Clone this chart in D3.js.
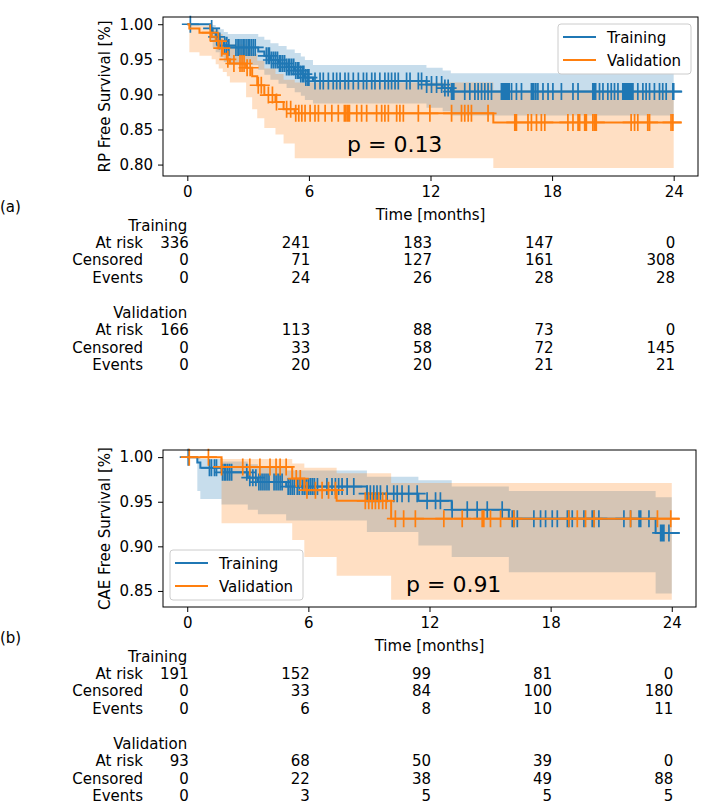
<!DOCTYPE html>
<html><head><meta charset="utf-8">
<script src="https://cdn.jsdelivr.net/npm/d3@7"></script>
<style>body{margin:0;background:#fff;} svg{display:block;} text{font-family:"DejaVu Sans",sans-serif;}</style>
</head><body><svg id="c" width="715" height="812"></svg>
<script>
// ---------- DATA ----------
const xTicks = [0, 6, 12, 18, 24];
const groupNames = ["Training", "Validation"];
const rowLabels = ["At risk", "Censored", "Events"];

// Panel (a) RP free survival
const aTrainTimes = [0,1.13,1.25,1.4,1.6,1.8,2.0,3.5,3.8,4.1,4.5,4.9,5.3,5.6,5.8,6.2,11.8,12.6,13.0];
const aTrainSurv  = [1,0.994,0.988,0.982,0.976,0.970,0.967,0.961,0.955,0.949,0.944,0.939,0.934,0.929,0.924,0.919,0.914,0.909,0.904];
const aTrainUpper = [1,1.0,0.999,0.996,0.993,0.989,0.986,0.982,0.978,0.973,0.969,0.964,0.959,0.954,0.949,0.942,0.938,0.934,0.930];
const aTrainLower = [1,0.975,0.967,0.960,0.953,0.946,0.942,0.935,0.928,0.921,0.915,0.909,0.903,0.898,0.892,0.887,0.881,0.876,0.870];
const aTrainCensor = [0.15,1.2,1.45,1.6,1.85,1.95,2.05,2.4,2.5,2.55,2.65,2.75,2.8,2.9,3.0,3.05,3.15,3.25,3.35,3.9,4.0,4.05,4.15,4.25,4.35,4.45,4.55,4.6,4.7,4.8,4.9,5.0,5.05,5.15,5.25,5.35,5.45,5.5,5.6,5.7,5.75,5.85,5.95,6.0,6.3,6.55,6.71,6.96,7.2,7.37,7.54,7.78,7.95,8.19,8.44,8.69,8.85,9.1,9.26,9.5,9.75,9.92,10.08,10.25,10.41,10.82,10.99,11.4,11.56,11.81,12.05,12.3,12.55,12.71,12.87,13.04,13.1,13.15,13.69,13.94,14.19,14.35,14.52,14.68,14.84,15.01,15.5,15.55,15.6,15.68,15.75,15.82,15.88,16.0,16.24,16.49,16.98,17.04,17.1,17.2,17.3,17.55,17.8,18.04,18.46,19.03,19.28,20.01,20.08,20.15,20.34,20.51,20.75,20.92,21.08,21.25,21.49,21.55,21.61,21.67,21.74,21.8,21.86,21.92,21.99,22.23,22.48,22.64,22.81,23.05,23.3,23.46,23.63,23.96,24.0];
const aValTimes = [0,0.1,0.6,1.2,1.4,1.55,1.75,1.95,2.1,2.9,3.2,3.45,3.8,4.35,4.75,5.3,15.1];
const aValSurv  = [1,0.994,0.988,0.982,0.976,0.966,0.958,0.950,0.944,0.938,0.926,0.913,0.899,0.889,0.879,0.873,0.860];
const aValUpper = [1,1.0,0.998,0.995,0.992,0.986,0.981,0.975,0.971,0.967,0.958,0.948,0.937,0.929,0.921,0.917,0.906];
const aValLower = [1,0.960,0.955,0.950,0.943,0.937,0.932,0.926,0.917,0.896,0.879,0.866,0.852,0.843,0.830,0.809,0.795];
const aValCensor = [1.13,1.53,1.7,2.0,2.3,2.6,2.7,2.8,2.95,3.1,3.5,3.65,4.0,4.2,4.4,4.9,5.1,5.35,5.5,5.65,5.81,6.06,6.3,6.47,6.8,7.13,7.45,7.75,7.83,7.92,8.0,8.36,8.6,8.85,9.34,9.59,9.75,9.92,10.33,10.49,10.66,11.4,11.97,13.04,13.53,13.69,13.86,14.02,14.84,16.16,16.24,16.81,16.98,17.23,17.47,17.64,18.78,19.03,19.28,19.36,19.61,19.69,20.01,20.1,20.18,21.9,22.07,22.23,22.72,22.81,23.87,23.96];
const aTrainAtRisk = [336,241,183,147,0], aTrainCensored = [0,71,127,161,308], aTrainEvents = [0,24,26,28,28];
const aValAtRisk = [166,113,88,73,0], aValCensored = [0,33,58,72,145], aValEvents = [0,20,20,21,21];

// Panel (b) CAE free survival
const bTrainTimes = [0,0.5,0.65,1.7,3.0,3.5,4.9,8.9,11.45,13.1,15.93,23.2];
const bTrainSurv  = [1,0.994,0.988,0.983,0.977,0.972,0.967,0.959,0.951,0.941,0.931,0.915];
const bTrainUpper = [1,1.0,0.998,0.995,0.992,0.988,0.985,0.978,0.974,0.967,0.962,0.955];
const bTrainLower = [1,0.962,0.953,0.947,0.941,0.936,0.929,0.916,0.901,0.888,0.871,0.847];
const bTrainCensor = [0.05,1.1,1.2,1.35,1.45,1.75,1.85,1.9,2.0,2.1,2.2,2.95,3.1,3.25,3.4,3.55,3.65,3.75,3.85,3.95,4.05,4.3,4.4,4.5,4.6,4.7,5.0,5.1,5.2,5.3,5.45,5.55,5.7,5.8,5.9,6.0,6.1,6.2,6.3,6.45,6.92,7.17,7.34,7.5,7.67,7.92,8.25,8.91,9.07,9.24,9.4,9.57,9.9,10.23,10.4,10.64,10.97,11.39,11.88,12.3,12.54,13.12,13.87,14.36,14.86,15.6,16.1,16.18,16.35,17.17,17.5,17.75,18.08,18.33,18.83,18.9,19.07,19.65,20.06,20.15,20.39,21.63,21.96,22.38,22.46,22.87,23.45,23.53,23.61,23.86];
const bValTimes = [0,1.7,5.2,5.8,7.4,10.1];
const bValSurv  = [1,0.989,0.976,0.963,0.951,0.931];
const bValUpper = [1,0.998,0.993,0.988,0.982,0.971];
const bValLower = [1,0.926,0.907,0.888,0.867,0.840];
const bValCensor = [0.1,1.05,1.7,2.75,3.1,3.6,4.1,4.4,4.6,4.9,5.4,5.6,5.93,6.35,6.68,7.0,7.34,8.82,8.99,9.16,9.32,9.49,9.68,9.85,10.31,10.72,11.3,12.71,13.62,14.61,14.69,15.02,15.52,16.18,18.9,19.32,19.73,20.15,21.96,23.29,23.95];
const bTrainAtRisk = [191,152,99,81,0], bTrainCensored = [0,33,84,100,180], bTrainEvents = [0,6,8,10,11];
const bValAtRisk = [93,68,50,39,0], bValCensored = [0,22,38,49,88], bValEvents = [0,3,5,5,5];

const lastTime = 24.4, ciEnd = 24.0;
const COLORS = ["#1f77b4", "#ff7f0e"];

// ---------- DRAW ----------
const svg = d3.select("#c");
const FONT = "DejaVu Sans";

function drawPanel(P) {
  const x = d3.scaleLinear().domain([-1.2, 25.2]).range([P.left, P.right]);
  const y = d3.scaleLinear().domain(P.yDomain).range([P.bottom, P.top]);
  const g = svg.append("g");
  const gFill = g.append("g"), gLine = g.append("g");

  P.series.forEach((s, k) => {
    const col = COLORS[k];
    const ci = s.times.map((t, i) => ({t, lo: s.lower[i], hi: s.upper[i]}));
    ci.push({t: ciEnd, lo: s.lower[s.lower.length-1], hi: s.upper[s.upper.length-1]});
    gFill.append("path")
      .attr("d", d3.area().curve(d3.curveStepAfter).x(d => x(d.t)).y0(d => y(d.lo)).y1(d => y(d.hi))(ci))
      .attr("fill", col).attr("fill-opacity", 0.25).attr("stroke", "none");
    const pts = s.times.map((t, i) => [t, s.surv[i]]);
    pts.push([lastTime, s.surv[s.surv.length-1]]);
    gLine.append("path")
      .attr("d", d3.line().curve(d3.curveStepAfter).x(d => x(d[0])).y(d => y(d[1]))(pts))
      .attr("fill", "none").attr("stroke", col).attr("stroke-width", 2);
    const m = 8.5;
    const cp = s.censor.map(t => {
      const sv = s.surv[d3.bisectRight(s.times, t) - 1];
      const cx = x(t), cy = y(sv);
      return `M${cx},${cy-m}v${2*m}M${cx-m},${cy}h${2*m}`;
    }).join("");
    gLine.append("path").attr("d", cp).attr("fill", "none").attr("stroke", col).attr("stroke-width", 1.7);
  });

  // axes
  const xa = g.append("g").attr("transform", `translate(0,${P.bottom})`)
    .call(d3.axisBottom(x).tickValues(xTicks).tickSize(5).tickPadding(5));
  const ya = g.append("g").attr("transform", `translate(${P.left},0)`)
    .call(d3.axisLeft(y).tickValues(P.yTicks).tickFormat(d3.format(".2f")).tickSize(5).tickPadding(5));
  [xa, ya].forEach(a => {
    a.select(".domain").remove();
    a.attr("font-size", 15).attr("font-family", FONT);
    a.selectAll("line").attr("stroke", "#000").attr("stroke-width", 1);
    a.selectAll("text").attr("fill", "#000");
  });
  g.append("rect").attr("x", P.left).attr("y", P.top)
    .attr("width", P.right - P.left).attr("height", P.bottom - P.top)
    .attr("fill", "none").attr("stroke", "#000").attr("stroke-width", 1);

  // y label
  const cy = (P.top + P.bottom) / 2;
  g.append("text").attr("transform", `translate(110,${cy}) rotate(-90)`)
    .attr("text-anchor", "middle").attr("font-size", 15).attr("fill", "#000").text(P.ylabel);
  // x label
  g.append("text").attr("x", (P.left + P.right) / 2).attr("y", P.bottom + 44)
    .attr("text-anchor", "middle").attr("font-size", 15).attr("fill", "#000").text("Time [months]");

  // p text
  g.append("text").attr("x", P.pAt[0]).attr("y", P.pAt[1])
    .attr("font-size", 22).attr("fill", "#000").text(P.pText);

  // legend
  const lw = 133, lh = 50;
  const lx = P.legend === "upper right" ? P.right - 7 - lw : P.left + 7;
  const ly = P.legend === "upper right" ? P.top + 7 : P.bottom - 7 - lh;
  const lg = g.append("g");
  lg.append("rect").attr("x", lx).attr("y", ly).attr("width", lw).attr("height", lh)
    .attr("rx", 3).attr("fill", "#fff").attr("fill-opacity", 0.8).attr("stroke", "#cccccc");
  groupNames.forEach((n, i) => {
    const ry = ly + 13 + i * 23;
    lg.append("line").attr("x1", lx + 5).attr("x2", lx + 38).attr("y1", ry).attr("y2", ry)
      .attr("stroke", COLORS[i]).attr("stroke-width", 2);
    lg.append("text").attr("x", lx + 49).attr("y", ry + 5.5).attr("font-size", 15).attr("fill", "#000").text(n);
  });

  // panel label
  g.append("text").attr("x", 0).attr("y", P.bottom + 36)
    .attr("font-family", "Liberation Sans").attr("font-size", 15).attr("fill", "#000").text(P.label);

  // at-risk table
  const base = P.bottom + 54.5;
  P.table.forEach((grp, gi) => {
    const gy = base + gi * 87.5;
    g.append("text").attr("x", x(0)).attr("y", gy).attr("text-anchor", "end")
      .attr("font-size", 15).attr("fill", "#000").text(groupNames[gi]);
    grp.forEach((row, ri) => {
      const ry = gy + (ri + 1) * 17.4;
      g.append("text").attr("x", 143).attr("y", ry).attr("text-anchor", "end")
        .attr("font-size", 15).attr("fill", "#000").text(rowLabels[ri]);
      row.forEach((v, ci) => {
        g.append("text").attr("x", x(xTicks[ci]) + 1.5).attr("y", ry).attr("text-anchor", "end")
          .attr("font-size", 15).attr("fill", "#000").text(v);
      });
    });
  });
}

drawPanel({
  left: 163, right: 698, top: 17, bottom: 176,
  yDomain: [0.7837, 1.0103], yTicks: [0.80, 0.85, 0.90, 0.95, 1.00],
  ylabel: "RP Free Survival [%]", pText: "p = 0.13", pAt: [347, 151.5],
  legend: "upper right", label: "(a)",
  series: [
    {times: aTrainTimes, surv: aTrainSurv, upper: aTrainUpper, lower: aTrainLower, censor: aTrainCensor},
    {times: aValTimes, surv: aValSurv, upper: aValUpper, lower: aValLower, censor: aValCensor}
  ],
  table: [[aTrainAtRisk, aTrainCensored, aTrainEvents], [aValAtRisk, aValCensored, aValEvents]]
});

drawPanel({
  left: 163, right: 696, top: 450, bottom: 607,
  yDomain: [0.832, 1.008], yTicks: [0.85, 0.90, 0.95, 1.00],
  ylabel: "CAE Free Survival [%]", pText: "p = 0.91", pAt: [406, 591.5],
  legend: "lower left", label: "(b)",
  series: [
    {times: bTrainTimes, surv: bTrainSurv, upper: bTrainUpper, lower: bTrainLower, censor: bTrainCensor},
    {times: bValTimes, surv: bValSurv, upper: bValUpper, lower: bValLower, censor: bValCensor}
  ],
  table: [[bTrainAtRisk, bTrainCensored, bTrainEvents], [bValAtRisk, bValCensored, bValEvents]]
});
</script></body></html>
